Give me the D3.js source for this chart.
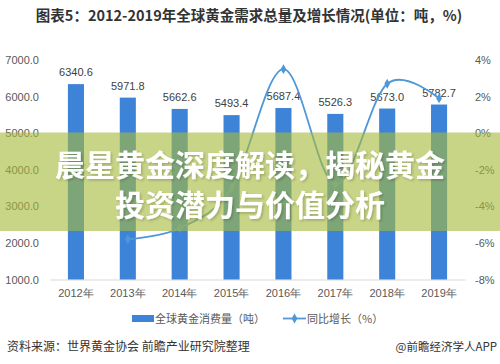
<!DOCTYPE html>
<html><head><meta charset="utf-8">
<script src="https://cdn.jsdelivr.net/npm/d3@7"></script>
<style>
html,body{margin:0;padding:0;background:#fff;}
svg{display:block;font-family:"Noto Sans CJK SC","Noto Sans",sans-serif;}
</style></head>
<body>
<svg id="c" width="500" height="364"></svg>
<script>
const years = ["2012年","2013年","2014年","2015年","2016年","2017年","2018年","2019年"];
const consumption = [6340.6, 5971.8, 5662.6, 5493.4, 5687.4, 5526.3, 5673.0, 5782.7];
const growth = [null, -5.8, -5.2, -3.0, 3.5, -2.8, 2.7, 1.9];
const leftTicks = [1000, 2000, 3000, 4000, 5000, 6000, 7000];
const rightTicks = [-8, -6, -4, -2, 0, 2, 4];
const titleText = "图表5：2012-2019年全球黄金需求总量及增长情况(单位：吨，%)";
const legendLabels = ["全球黄金消费量（吨）", "同比增长（%）"];
const sourceText = "资料来源：世界黄金协会 前瞻产业研究院整理";
const creditText = "@前瞻经济学人APP";
const bannerLines = ["晨星黄金深度解读，揭秘黄金", "投资潜力与价值分析"];

const svg = d3.select("#c");
const L = 50, R = 465, T = 60, B = 279.5;
const barColor = "#3d84d8", lineColor = "#4f97d8";

const defs = svg.append("defs");
const f = defs.append("filter").attr("id", "sh").attr("x", "-10%").attr("y", "-20%").attr("width", "120%").attr("height", "140%");
f.append("feDropShadow").attr("dx", 1.5).attr("dy", 1.5).attr("stdDeviation", 1).attr("flood-color", "#000").attr("flood-opacity", 0.2);

const x = d3.scaleBand().domain(years).range([L, R]).paddingInner(0.69).paddingOuter(0.345);
const y = d3.scaleLinear().domain([1000, 7000]).range([B, T]);
const y2 = d3.scaleLinear().domain([-8, 4]).range([B, T]);

// title
svg.append("text").attr("x", 249).attr("y", 21).attr("text-anchor", "middle")
  .attr("font-size", 14.5).attr("font-weight", "bold").attr("fill", "#333").text(titleText);

// left axis
const gl = svg.append("g").attr("transform", `translate(${L},0)`)
  .call(d3.axisLeft(y).tickValues(leftTicks).tickFormat(d3.format(".1f")).tickSize(0).tickPadding(11));
gl.select(".domain").remove();
gl.selectAll("text").attr("font-size", 11).attr("fill", "#595959").attr("font-family", "Liberation Sans, Arial, sans-serif");

// right axis
const gr = svg.append("g").attr("transform", `translate(${R},0)`)
  .call(d3.axisRight(y2).tickValues(rightTicks).tickFormat(d => d + "%").tickSize(0).tickPadding(10));
gr.select(".domain").remove();
gr.selectAll("text").attr("font-size", 11).attr("fill", "#595959").attr("font-family", "Liberation Sans, Arial, sans-serif");

// bottom axis
const gb = svg.append("g").attr("transform", `translate(0,${B})`)
  .call(d3.axisBottom(x).tickSize(0).tickPadding(10));
gb.select(".domain").attr("stroke", "#d9d9d9");
gb.selectAll("text").attr("font-size", 11).attr("fill", "#595959");

// bars
svg.append("g").selectAll("rect").data(consumption).join("rect")
  .attr("x", (d, i) => x(years[i])).attr("width", x.bandwidth())
  .attr("y", d => y(d)).attr("height", d => B - y(d)).attr("fill", barColor);

// bar labels
svg.append("g").selectAll("text").data(consumption).join("text")
  .attr("x", (d, i) => x(years[i]) + x.bandwidth() / 2).attr("y", d => y(d) - 8)
  .attr("text-anchor", "middle").attr("font-size", 11).attr("fill", "#404040")
  .attr("font-family", "Liberation Sans, Arial, sans-serif")
  .text(d => d.toFixed(1));

// growth line
const pts = growth.map((g, i) => ({g, i})).filter(p => p.g !== null);
const line = d3.line().x(p => x(years[p.i]) + x.bandwidth() / 2).y(p => y2(p.g)).curve(d3.curveCardinal.tension(0));
svg.append("path").datum(pts).attr("d", line).attr("fill", "none").attr("stroke", lineColor).attr("stroke-width", 1.8);
const diamond = d3.symbol().type(d3.symbolDiamond).size(28);
svg.append("g").selectAll("path").data(pts).join("path")
  .attr("transform", p => `translate(${x(years[p.i]) + x.bandwidth() / 2},${y2(p.g)})`)
  .attr("d", diamond).attr("fill", lineColor);

// legend
const lg = svg.append("g");
lg.append("rect").attr("x", 132).attr("y", 315).attr("width", 22).attr("height", 7).attr("fill", barColor);
lg.append("text").attr("x", 155).attr("y", 323).attr("font-size", 11).attr("fill", "#595959").text(legendLabels[0]);
lg.append("line").attr("x1", 283).attr("x2", 306).attr("y1", 318.5).attr("y2", 318.5).attr("stroke", lineColor).attr("stroke-width", 1.8);
lg.append("path").attr("transform", "translate(294.5,318.5)").attr("d", diamond).attr("fill", lineColor);
lg.append("text").attr("x", 307).attr("y", 323).attr("font-size", 11).attr("fill", "#595959").text(legendLabels[1]);

// source
svg.append("text").attr("x", 7).attr("y", 351).attr("font-size", 12).attr("fill", "#333").text(sourceText);
svg.append("text").attr("x", 497).attr("y", 351).attr("text-anchor", "end").attr("font-size", 11.5).attr("fill", "#333").text(creditText);

// banner overlay
svg.append("rect").attr("x", 0).attr("y", 132.5).attr("width", 500).attr("height", 98.5)
  .attr("fill", "rgb(166,186,60)").attr("fill-opacity", 0.62);
const bt = svg.append("g").attr("font-size", 30).attr("font-weight", "bold").attr("fill", "#fff")
  .attr("text-anchor", "middle").attr("filter", "url(#sh)");
bannerLines.forEach((t, i) => {
  bt.append("text").attr("x", 250).attr("y", 176 + i * 40).text(t);
});
</script>
</body></html>
